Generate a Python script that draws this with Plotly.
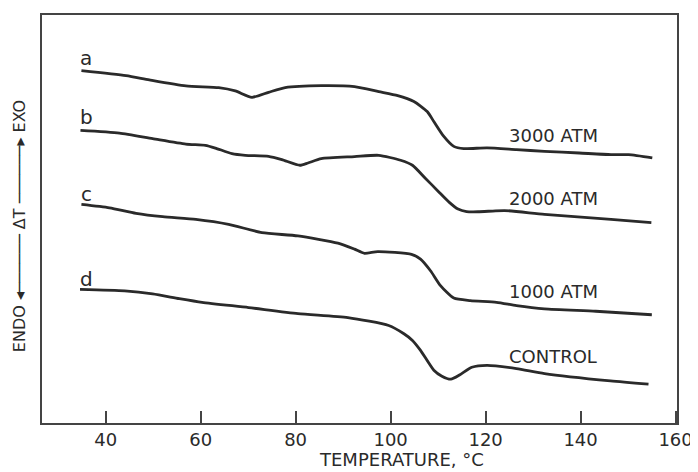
import plotly.graph_objects as go

# Temperature (°C) and relative ΔT signal (arbitrary units, offset per curve)
temp_a = [34.9, 44.3, 49.2, 56.9, 63.8, 67.3, 70.8, 74.3, 77.8, 85.4, 92.4, 97.5,
          101.5, 104.9, 107.7, 109.1, 111.2, 113.3, 115.4, 120.3, 126.5, 132.4,
          139.7, 146.4, 150.1, 155.1]
dt_a = [354, 349, 344.7, 338.7, 337, 333.7, 327.3, 332.3, 337, 339, 338, 333,
        329, 323, 313, 303, 288, 278, 275.7, 276.5, 274.7, 273, 271.3, 269.7,
        269.7, 266.5]

temp_b = [34.7, 42.9, 49.9, 56.9, 61.0, 63.1, 66.6, 69.4, 74.3, 77.1, 80.9, 82.6,
          85.4, 92.4, 97.5, 102.1, 104.6, 107.3, 110.0, 112.3, 114.2, 116.0, 118.4,
          121.5, 124.0, 132.4, 146.4, 154.9]
dt_b = [294, 291.3, 285.7, 280.3, 279, 276.3, 270.7, 269, 268, 264.7, 259, 261.3,
        265.7, 267.7, 269, 264, 259, 246, 233, 222, 215, 212.5, 212.3, 213, 213.5,
        209.7, 204.7, 201.3]

temp_c = [34.9, 40.8, 46.4, 52.0, 59.0, 65.9, 72.9, 80.5, 88.9, 92.4, 94.5, 97.3,
          104.4, 106.3, 108.4, 110.5, 113.3, 116.8, 122.3, 126.5, 132.4, 143.2, 155.0]
dt_c = [219.7, 216.3, 210.7, 207.3, 204.7, 199.7, 191.3, 188, 180.7, 174.7, 170.5,
        172.3, 169.5, 164.7, 153, 138, 125.5, 123, 121.3, 118, 114.7, 112.3, 108.8]

temp_d = [34.6, 44.0, 49.9, 55.5, 60.3, 70.1, 80.5, 91.0, 99.6, 102.8, 104.6, 106.3,
          109.1, 110.8, 112.7, 114.6, 117.1, 120.3, 126.5, 132.4, 146.3, 154.3]
dt_d = [134.2, 132.7, 129.7, 125, 121.3, 116, 110, 106, 98, 89.7, 83, 73, 53, 47,
        44, 48.5, 56, 58, 54.7, 49.7, 42.3, 39]

curve_letters = ["a", "b", "c", "d"]
curve_names = ["3000 ATM", "2000 ATM", "1000 ATM", "CONTROL"]
letter_y = [367, 308, 230, 144.7]
name_y = [288.7, 225.3, 132, 67]

x_ticks = [40, 60, 80, 100, 120, 140, 160]
x_ticktext = ["40", "60", "80", "100", "120", "140", "160"]

INK = "#2a2a2a"
FONT = "DejaVu Sans"

fig = go.Figure()
for tx, ty in [(temp_a, dt_a), (temp_b, dt_b), (temp_c, dt_c), (temp_d, dt_d)]:
    fig.add_trace(go.Scatter(x=tx, y=ty, mode="lines",
                             line=dict(color=INK, width=2.8, shape="spline", smoothing=0.6),
                             showlegend=False, hoverinfo="skip"))

for lt, ly in zip(curve_letters, letter_y):
    fig.add_annotation(x=35.9, y=ly, text=lt, showarrow=False,
                       font=dict(family=FONT, size=20, color=INK),
                       xanchor="center", yanchor="middle")
for nm, ny in zip(curve_names, name_y):
    fig.add_annotation(x=124.6, y=ny, text=nm, showarrow=False,
                       font=dict(family=FONT, size=18, color=INK),
                       xanchor="left", yanchor="middle")

# axis titles
fig.add_annotation(xref="paper", yref="paper", x=(404 - 42) / 640, y=-(460 - 423) / 410,
                   text="TEMPERATURE, °C", showarrow=False,
                   font=dict(family=FONT, size=18, color=INK),
                   xanchor="center", yanchor="middle")
fig.add_annotation(xref="paper", yref="paper", x=-(42 - 20) / 640, y=(423 - 225) / 410,
                   text="ENDO ◂────── ΔT ──────▸ EXO", showarrow=False, textangle=-90,
                   font=dict(family=FONT, size=16, color=INK),
                   xanchor="center", yanchor="middle")

fig.update_xaxes(range=[26.6, 160.3], tickvals=x_ticks, ticktext=x_ticktext,
                 ticks="inside", ticklen=12, tickwidth=1.5, tickcolor="#444",
                 showline=True, linecolor="#444", linewidth=1.6, mirror=True,
                 showgrid=False, zeroline=False,
                 tickfont=dict(family=FONT, size=18, color=INK), ticklabelstandoff=0)
fig.update_yaxes(range=[0, 410], showticklabels=False, ticks="",
                 showline=True, linecolor="#444", linewidth=1.6, mirror=True,
                 showgrid=False, zeroline=False)

# the page's default 8px body margin offsets the figure; size/margins compensate
fig.update_layout(width=690, height=464, autosize=False,
                  margin=dict(l=34, r=16, t=5, b=49),
                  paper_bgcolor="white", plot_bgcolor="white")

fig.write_html("out.html", config={"displayModeBar": False})
